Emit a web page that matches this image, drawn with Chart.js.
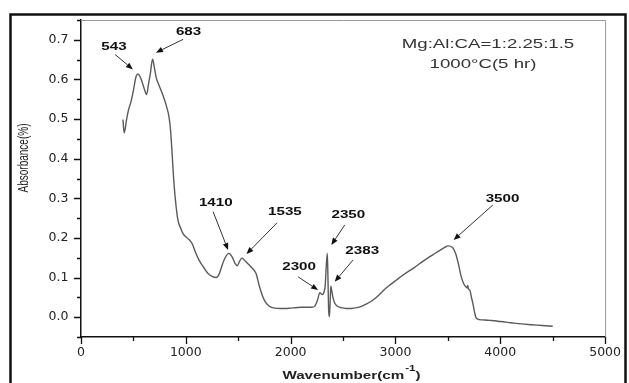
<!DOCTYPE html>
<html>
<head>
<meta charset="utf-8">
<script src="https://cdn.jsdelivr.net/npm/chart.js@4.4.0/dist/chart.umd.min.js"></script>
<style>
  html, body { margin: 0; padding: 0; background: #fff; }
  canvas { display: block; }
</style>
</head>
<body>
<canvas id="ftir" width="629" height="383"></canvas>
<script>
// FTIR absorbance spectrum of the calcined Mg-Al sample
const wavenumbers = [
  400, 412, 435, 455, 475, 500, 524, 543, 565, 585, 605, 626, 645, 660, 683, 700,
  718, 745, 770, 795, 818, 840, 855, 870, 885, 905, 925, 950, 975, 1000, 1030, 1060,
  1090, 1130, 1170, 1210, 1250, 1290, 1320, 1345, 1375, 1410, 1440, 1470, 1490, 1515,
  1535, 1570, 1600, 1640, 1670, 1700, 1730, 1760, 1800, 1850, 1900, 1950, 2000, 2050,
  2100, 2150, 2200, 2230, 2256, 2278, 2300, 2318, 2330, 2340, 2350, 2356, 2362, 2370,
  2377, 2383, 2395, 2405, 2420, 2440, 2480, 2530, 2580, 2630, 2680, 2730, 2780, 2830,
  2870, 2880, 2895, 2940, 2980, 3010, 3060, 3120, 3180, 3240, 3300, 3360, 3420, 3470,
  3500, 3545, 3575, 3600, 3625, 3650, 3675, 3685, 3690, 3695, 3710, 3725, 3740, 3755,
  3770, 3800, 3850, 3900, 3950, 4000, 4100, 4200, 4300, 4400, 4500
];
const absorbance = [
  0.499, 0.465, 0.499, 0.525, 0.542, 0.572, 0.606, 0.614, 0.606, 0.592, 0.575, 0.562, 0.590, 0.612, 0.651, 0.630,
  0.604, 0.585, 0.568, 0.550, 0.530, 0.505, 0.470, 0.410, 0.345, 0.285, 0.245, 0.225, 0.210, 0.203, 0.196, 0.186,
  0.165, 0.142, 0.126, 0.111, 0.103, 0.100, 0.110, 0.130, 0.150, 0.161, 0.153, 0.136, 0.130, 0.142,
  0.149, 0.141, 0.133, 0.122, 0.110, 0.080, 0.055, 0.038, 0.027, 0.023, 0.022, 0.022, 0.023, 0.024,
  0.025, 0.025, 0.025, 0.028, 0.043, 0.062, 0.057, 0.063, 0.080, 0.130, 0.161, 0.100, 0.020, 0.001,
  0.040, 0.078, 0.062, 0.048, 0.036, 0.029, 0.024, 0.022, 0.022, 0.024, 0.028, 0.034, 0.042, 0.053,
  0.063, 0.066, 0.070, 0.080, 0.088, 0.094, 0.104, 0.115, 0.125, 0.137, 0.148, 0.158, 0.168, 0.176,
  0.180, 0.176, 0.160, 0.135, 0.105, 0.085, 0.076, 0.074, 0.080, 0.072, 0.068, 0.050, 0.033, 0.012,
  -0.002, -0.006, -0.007, -0.008, -0.009, -0.011, -0.014, -0.017, -0.019, -0.021, -0.023
];

// band positions marked with arrows
const peakLabels = [543, 683, 1410, 1535, 2300, 2350, 2383, 3500];
const sampleInfo = ['Mg:Al:CA=1:2.25:1.5', '1000\u00B0C(5 hr)'];

// callout placement in px relative to the band point: text centre, arrow tail, arrow tip
const calloutLayout = {
  543:  { text: [-24, -26.5], tail: [-23, -19.5], tip: [-5, -4.5] },
  683:  { text: [36, -27.6],  tail: [30.6, -19.9], tip: [3.3, -6.6] },
  1410: { text: [-13, -50],   tail: [-15.7, -41.7], tip: [-0.7, -3.4] },
  1535: { text: [43, -45.8],  tail: [35.2, -35.4], tip: [4.6, -4.1] },
  2300: { text: [-23, -27.8], tail: [-24, -17.8], tip: [-4, -4.5] },
  2350: { text: [21, -38.4],  tail: [17.4, -28.4], tip: [4, -8.4] },
  2383: { text: [31.4, -35.2], tail: [22.2, -26.2], tip: [3.9, -4.5] },
  3500: { text: [54.7, -46.6], tail: [45, -40.9], tip: [5.7, -5.9] }
};

const SANS = '"Liberation Sans", Arial, sans-serif';
const STRETCH = 1.38;

function absorbanceAt(w) {
  for (let i = 1; i < wavenumbers.length; i++) {
    if (wavenumbers[i] >= w) {
      const t = (w - wavenumbers[i - 1]) / (wavenumbers[i] - wavenumbers[i - 1]);
      return absorbance[i - 1] + t * (absorbance[i] - absorbance[i - 1]);
    }
  }
  return absorbance[absorbance.length - 1];
}

function wideText(ctx, text, x, y) {
  ctx.save();
  ctx.translate(x, y);
  ctx.scale(STRETCH, 1);
  ctx.fillText(text, 0, 0);
  ctx.restore();
}

function arrow(ctx, x1, y1, x2, y2) {
  const ang = Math.atan2(y2 - y1, x2 - x1);
  const head = 7, half = 2.8;
  const bx = x2 - head * Math.cos(ang), by = y2 - head * Math.sin(ang);
  ctx.beginPath();
  ctx.moveTo(x1, y1);
  ctx.lineTo(bx, by);
  ctx.stroke();
  ctx.beginPath();
  ctx.moveTo(x2, y2);
  ctx.lineTo(bx + half * Math.sin(ang), by - half * Math.cos(ang));
  ctx.lineTo(bx - half * Math.sin(ang), by + half * Math.cos(ang));
  ctx.closePath();
  ctx.fill();
}

const decorations = {
  id: 'decorations',
  afterDraw(chart) {
    const { ctx, chartArea: a, scales: { x, y } } = chart;
    ctx.save();

    // outer frame
    ctx.strokeStyle = '#111';
    ctx.lineWidth = 2.5;
    ctx.strokeRect(10.5, 14.5, 615, 380);

    // top and right edge of the plot box
    ctx.strokeStyle = '#999';
    ctx.lineWidth = 1;
    ctx.beginPath();
    ctx.moveTo(a.left, a.top + 0.5);
    ctx.lineTo(a.right + 0.5, a.top + 0.5);
    ctx.lineTo(a.right + 0.5, a.bottom);
    ctx.stroke();

    // outward tick marks, long on labelled ticks
    ctx.strokeStyle = '#111';
    ctx.lineWidth = 1.3;
    ctx.beginPath();
    x.ticks.forEach(t => {
      const px = Math.round(x.getPixelForValue(t.value)) + 0.5;
      const len = Math.round(t.value) % 1000 === 0 ? 7 : 4;
      ctx.moveTo(px, a.bottom);
      ctx.lineTo(px, a.bottom + len);
    });
    y.ticks.forEach(t => {
      const py = Math.round(y.getPixelForValue(t.value)) + 0.5;
      const len = Math.round(t.value * 100) % 10 === 0 ? 7 : 4;
      ctx.moveTo(a.left, py);
      ctx.lineTo(a.left - len, py);
    });
    ctx.stroke();

    // band callouts
    ctx.fillStyle = '#111';
    ctx.strokeStyle = '#333';
    ctx.lineWidth = 1;
    ctx.font = 'bold 11px ' + SANS;
    ctx.textAlign = 'center';
    ctx.textBaseline = 'middle';
    peakLabels.forEach(w => {
      const px = x.getPixelForValue(w);
      const py = y.getPixelForValue(absorbanceAt(w));
      const c = calloutLayout[w];
      arrow(ctx, px + c.tail[0], py + c.tail[1], px + c.tip[0], py + c.tip[1]);
      wideText(ctx, String(w), px + c.text[0], py + c.text[1]);
    });

    // sample description, upper right
    ctx.fillStyle = '#333';
    ctx.font = '13.5px ' + SANS;
    wideText(ctx, sampleInfo[0], 488, 44);
    wideText(ctx, sampleInfo[1], 483, 64);

    // y axis title
    ctx.fillStyle = '#222';
    ctx.font = '10px ' + SANS;
    ctx.save();
    ctx.translate(24, 158);
    ctx.rotate(-Math.PI / 2);
    ctx.scale(1, STRETCH);
    ctx.fillText('Absorbance(%)', 0, 0);
    ctx.restore();

    // x axis title with superscript
    const main = 'Wavenumber(cm', sup = '-1', close = ')';
    ctx.font = 'bold 11px ' + SANS;
    const wMain = ctx.measureText(main).width * STRETCH;
    const wClose = ctx.measureText(close).width * STRETCH;
    ctx.font = 'bold 8.5px ' + SANS;
    const wSup = ctx.measureText(sup).width * STRETCH;
    const left = 351 - (wMain + wSup + wClose) / 2;
    const base = 376;
    ctx.textAlign = 'left';
    ctx.font = 'bold 11px ' + SANS;
    wideText(ctx, main, left, base);
    ctx.font = 'bold 8.5px ' + SANS;
    wideText(ctx, sup, left + wMain + 1, base - 7);
    ctx.font = 'bold 11px ' + SANS;
    wideText(ctx, close, left + wMain + wSup + 1, base);

    ctx.restore();
  }
};

new Chart(document.getElementById('ftir'), {
  type: 'line',
  data: {
    datasets: [{
      data: wavenumbers.map((w, i) => ({ x: w, y: absorbance[i] })),
      borderColor: '#5a5a5a',
      borderWidth: 1.4,
      pointRadius: 0,
      cubicInterpolationMode: 'monotone'
    }]
  },
  options: {
    responsive: false,
    animation: false,
    layout: { padding: { top: 20, right: 23, left: 0, bottom: 0 } },
    plugins: { legend: { display: false }, tooltip: { enabled: false } },
    scales: {
      x: {
        type: 'linear',
        min: 0,
        max: 5000,
        grid: { display: false, drawTicks: false, tickLength: 0 },
        border: { display: true, color: '#111', width: 1.5 },
        ticks: {
          stepSize: 500,
          autoSkip: false,
          maxRotation: 0,
          padding: 8,
          color: '#222',
          font: { family: 'DejaVu Sans', size: 12.5 },
          callback: v => (Math.round(v) % 1000 === 0 ? String(v) : '')
        },
        afterFit: s => { s.height = 46; }
      },
      y: {
        min: -0.05,
        max: 0.75,
        grid: { display: false, drawTicks: false, tickLength: 0 },
        border: { display: true, color: '#111', width: 1.5 },
        ticks: {
          stepSize: 0.05,
          autoSkip: false,
          padding: 12.5,
          color: '#222',
          font: { family: 'DejaVu Sans', size: 12.5 },
          callback: v => (Math.round(v * 100) % 10 === 0 ? (Math.round(v * 10) / 10).toFixed(1) : '')
        },
        afterFit: s => { s.width = 81; }
      }
    }
  },
  plugins: [decorations]
});
</script>
</body>
</html>
